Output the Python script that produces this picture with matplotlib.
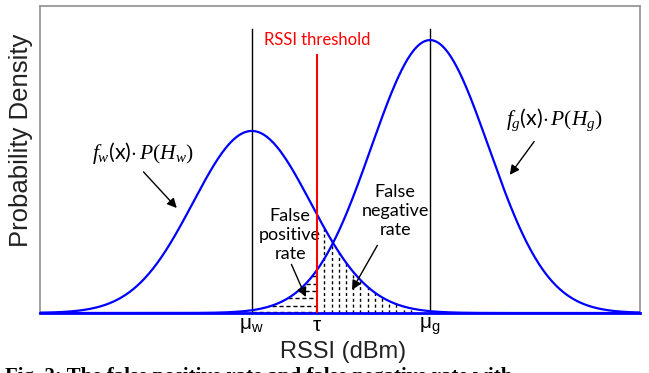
import numpy as np
import matplotlib
matplotlib.use("Agg")
import matplotlib.pyplot as plt

plt.rcParams['mathtext.fontset'] = 'custom'
plt.rcParams['mathtext.it'] = 'Liberation Serif:italic'
plt.rcParams['mathtext.rm'] = 'Liberation Serif'

# curve parameters (x in arbitrary RSSI units, y in relative density)
mu_w, mu_g = 35.3, 65.0
tau = 46.2
sigma_w, sigma_g = 9.8, 9.8
amp_w, amp_g = 0.593, 0.889

tick_pos = [mu_w, tau, mu_g]
tick_labels = [r'μ$_{\mathregular{w}}$', 'τ', r'μ$_{\mathregular{g}}$']

# hatch rows inside the false positive area (heights)
fp_levels = [0.004, 0.024, 0.048, 0.071, 0.095, 0.119]

x = np.linspace(0, 100, 600)
f_w = amp_w * np.exp(-(x - mu_w) ** 2 / (2 * sigma_w ** 2))
f_g = amp_g * np.exp(-(x - mu_g) ** 2 / (2 * sigma_g ** 2))

fig = plt.figure(figsize=(6.49, 3.73), dpi=100)
ax = fig.add_axes([40 / 649, 1 - 313 / 373, 600 / 649, 307 / 373])

ax.plot(x, f_w, color='#0000ff', lw=1.6, zorder=3)
ax.plot(x, f_g, color='#0000ff', lw=1.6, zorder=3)

# mean lines and threshold
ax.plot([mu_w, mu_w], [0, 0.925], color='black', lw=1)
ax.plot([mu_g, mu_g], [0, 0.925], color='black', lw=1)
ax.plot([tau, tau], [0, 0.84], color='red', lw=1.5, zorder=4)
ax.text(tau, 0.873, 'RSSI threshold', color='red', ha='center', va='baseline',
        family='Lato', fontsize=12)

# false positive: horizontal dashes under left tail of f_g
for h in fp_levels:
    xs = mu_g - sigma_g * np.sqrt(2 * np.log(amp_g / h))
    xs = max(xs, mu_w)
    ax.plot([xs, tau], [h, h], color='black', lw=1, dashes=(3, 2))

# false negative: vertical dashes under right tail of f_w
for xv in np.arange(tau + 1.2, 62, 1.2):
    yv = amp_w * np.exp(-(xv - mu_w) ** 2 / (2 * sigma_w ** 2))
    ax.plot([xv, xv], [0, yv], color='black', lw=1, dashes=(2.2, 2))

arrow = dict(arrowstyle='-|>', color='black', lw=1, mutation_scale=14, shrinkB=0)

ax.annotate('False\npositive\nrate', xy=(44.3, 0.052), xytext=(41.7, 0.254),
            ha='center', va='center', family='Lato', fontsize=13,
            arrowprops=dict(arrow, shrinkA=0, relpos=(0.5, 0.0)))
ax.annotate('False\nnegative\nrate', xy=(52.0, 0.075), xytext=(59.2, 0.332),
            ha='center', va='center', family='Lato', fontsize=13,
            arrowprops=dict(arrow, shrinkA=4, relpos=(0.3, 0.0)))

ax.annotate(r'$f_w$(x)$\cdot\,P(H_w)$', xy=(22.8, 0.342), xytext=(17.2, 0.521),
            ha='center', va='center', family='Lato', fontsize=15.5,
            arrowprops=dict(arrow, shrinkA=3, relpos=(0.45, 0.0)))
ax.annotate(r'$f_g$(x)$\cdot\,P(H_g)$', xy=(78.3, 0.450), xytext=(85.8, 0.629),
            ha='center', va='center', family='Lato', fontsize=15.5,
            arrowprops=dict(arrow, shrinkA=5, relpos=(0.35, 0.0)))

ax.set_xlim(0, 100)
ax.set_ylim(0, 1)
ax.set_yticks([])
ax.set_xticks(tick_pos)
ax.set_xticklabels(tick_labels, family='Liberation Sans', fontsize=15)
ax.tick_params(axis='x', length=0, pad=2)

for s in ['left', 'top', 'right']:
    ax.spines[s].set_color('#909090')
    ax.spines[s].set_linewidth(1.2)
ax.spines['bottom'].set_color('#0000ff')
ax.spines['bottom'].set_linewidth(2)

fig.text(343 / 649, 1 - 352 / 373, 'RSSI (dBm)', ha='center', va='center',
         family='Liberation Sans', fontsize=17, color='#222222')
fig.text(21 / 649, 1 - 140 / 373, 'Probability Density', ha='center', va='center',
         rotation=90, family='Liberation Sans', fontsize=18.5, color='#222222')

# caption, cut off by the lower edge as in the source
fig.text(5 / 649, 1 - 367 / 373, 'Fig. 2: The false positive rate and false negative rate with',
         ha='left', va='top', family='Liberation Serif', weight='bold', fontsize=15)

fig.savefig('out.png', dpi=100)
